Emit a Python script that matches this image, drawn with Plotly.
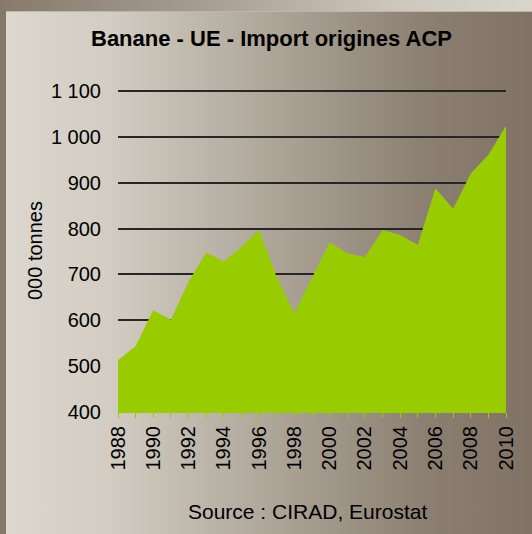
import base64
import plotly.graph_objects as go

years = list(range(1988, 2011))
imports_kt = [513, 544, 622, 601, 684, 748, 728, 760, 797, 694, 615, 692,
              770, 746, 738, 797, 786, 764, 888, 843, 920, 961, 1024]
y_ticks = [400, 500, 600, 700, 800, 900, 1000, 1100]
y_tick_labels = ["400", "500", "600", "700", "800", "900", "1 000", "1 100"]
x_tick_labels = [str(y) if y % 2 == 0 else "" for y in years]

title_text = "Banane - UE - Import origines ACP"
y_title = "000 tonnes"
source_text = "Source : CIRAD, Eurostat"

W, H = 532, 534
FONT = "Liberation Sans, Arial, sans-serif"

svg = f'''<svg xmlns="http://www.w3.org/2000/svg" width="{W}" height="{H}" viewBox="0 0 {W} {H}" preserveAspectRatio="none">
<defs>
<linearGradient id="top" x1="0" y1="0" x2="1" y2="0">
<stop offset="0" stop-color="#877a6c"/><stop offset="0.35" stop-color="#a39a8e"/>
<stop offset="0.75" stop-color="#cdc7bc"/><stop offset="1" stop-color="#d9d5cb"/>
</linearGradient>
<linearGradient id="panel" x1="0" y1="0" x2="1" y2="0">
<stop offset="0" stop-color="#dcd8cf"/><stop offset="0.2" stop-color="#d2ccc2"/>
<stop offset="0.5" stop-color="#aea699"/><stop offset="0.8" stop-color="#8b7f71"/>
<stop offset="1" stop-color="#807366"/>
</linearGradient>
</defs>
<rect x="0" y="0" width="{W}" height="{H}" fill="#857868"/>
<rect x="0" y="0" width="{W}" height="11" fill="url(#top)"/>
<rect x="6" y="11" width="{W-6}" height="{H-11}" fill="url(#panel)"/>
<rect x="6" y="11" width="{W-6}" height="1" fill="#bdb6ab"/>
</svg>'''
src = "data:image/svg+xml;base64," + base64.b64encode(svg.encode()).decode()

# plot area in pixels (range top extended slightly so the 1100 gridline shows)
x0, x1 = 118, 506
ybot = 412
px_per_unit = (412 - 91) / 700.0
y_max = 1103
ytop = ybot - (y_max - 400) * px_per_unit

fig = go.Figure()
fig.add_trace(go.Scatter(
    x=years, y=imports_kt, mode="lines", fill="tozeroy",
    line=dict(color="#99cc00", width=0), fillcolor="#99cc00",
    hoverinfo="x+y", showlegend=False,
))

fig.update_layout(
    width=W, height=H,
    margin=dict(l=0, r=0, t=0, b=0),
    paper_bgcolor="rgba(0,0,0,0)",
    plot_bgcolor="rgba(0,0,0,0)",
    font=dict(family=FONT, size=20, color="#000000"),
    showlegend=False,
    images=[dict(source=src, xref="paper", yref="paper", x=0, y=1,
                 sizex=1, sizey=1, xanchor="left", yanchor="top",
                 sizing="stretch", layer="below")],
    xaxis=dict(
        domain=[x0 / W, x1 / W], range=[1988, 2010], automargin=False,
        tickmode="array", tickvals=years, ticktext=x_tick_labels,
        tickangle=-90, ticks="outside", ticklen=5, tickwidth=1,
        tickcolor="#99cc00", showgrid=False, zeroline=False,
        showline=True, linecolor="#99cc00", linewidth=1,
        tickfont=dict(family=FONT, size=20, color="#000000"),
    ),
    yaxis=dict(
        domain=[(H - ybot) / H, (H - ytop) / H], range=[400, y_max],
        automargin=False,
        tickmode="array", tickvals=y_ticks, ticktext=y_tick_labels,
        ticks="", ticklabelstandoff=16,
        showgrid=True, gridcolor="#262626", gridwidth=1.5,
        zeroline=False, showline=False,
        tickfont=dict(family=FONT, size=20, color="#000000"),
    ),
    annotations=[
        dict(text=f"<b>{title_text}</b>", xref="paper", yref="paper",
             x=271 / W, y=1 - 39 / H, xanchor="center", yanchor="middle",
             showarrow=False, font=dict(family=FONT, size=22, color="#000000")),
        dict(text=y_title, xref="paper", yref="paper",
             x=35 / W, y=1 - 251 / H, xanchor="center", yanchor="middle",
             textangle=-90, showarrow=False,
             font=dict(family=FONT, size=20, color="#000000")),
        dict(text=source_text, xref="paper", yref="paper",
             x=307 / W, y=1 - 511 / H, xanchor="center", yanchor="middle",
             showarrow=False, font=dict(family=FONT, size=21, color="#000000")),
    ],
)

fig.write_html("out.html",
               config={"displayModeBar": False},
               post_script="document.body.style.margin='0';document.body.style.overflow='hidden';")
